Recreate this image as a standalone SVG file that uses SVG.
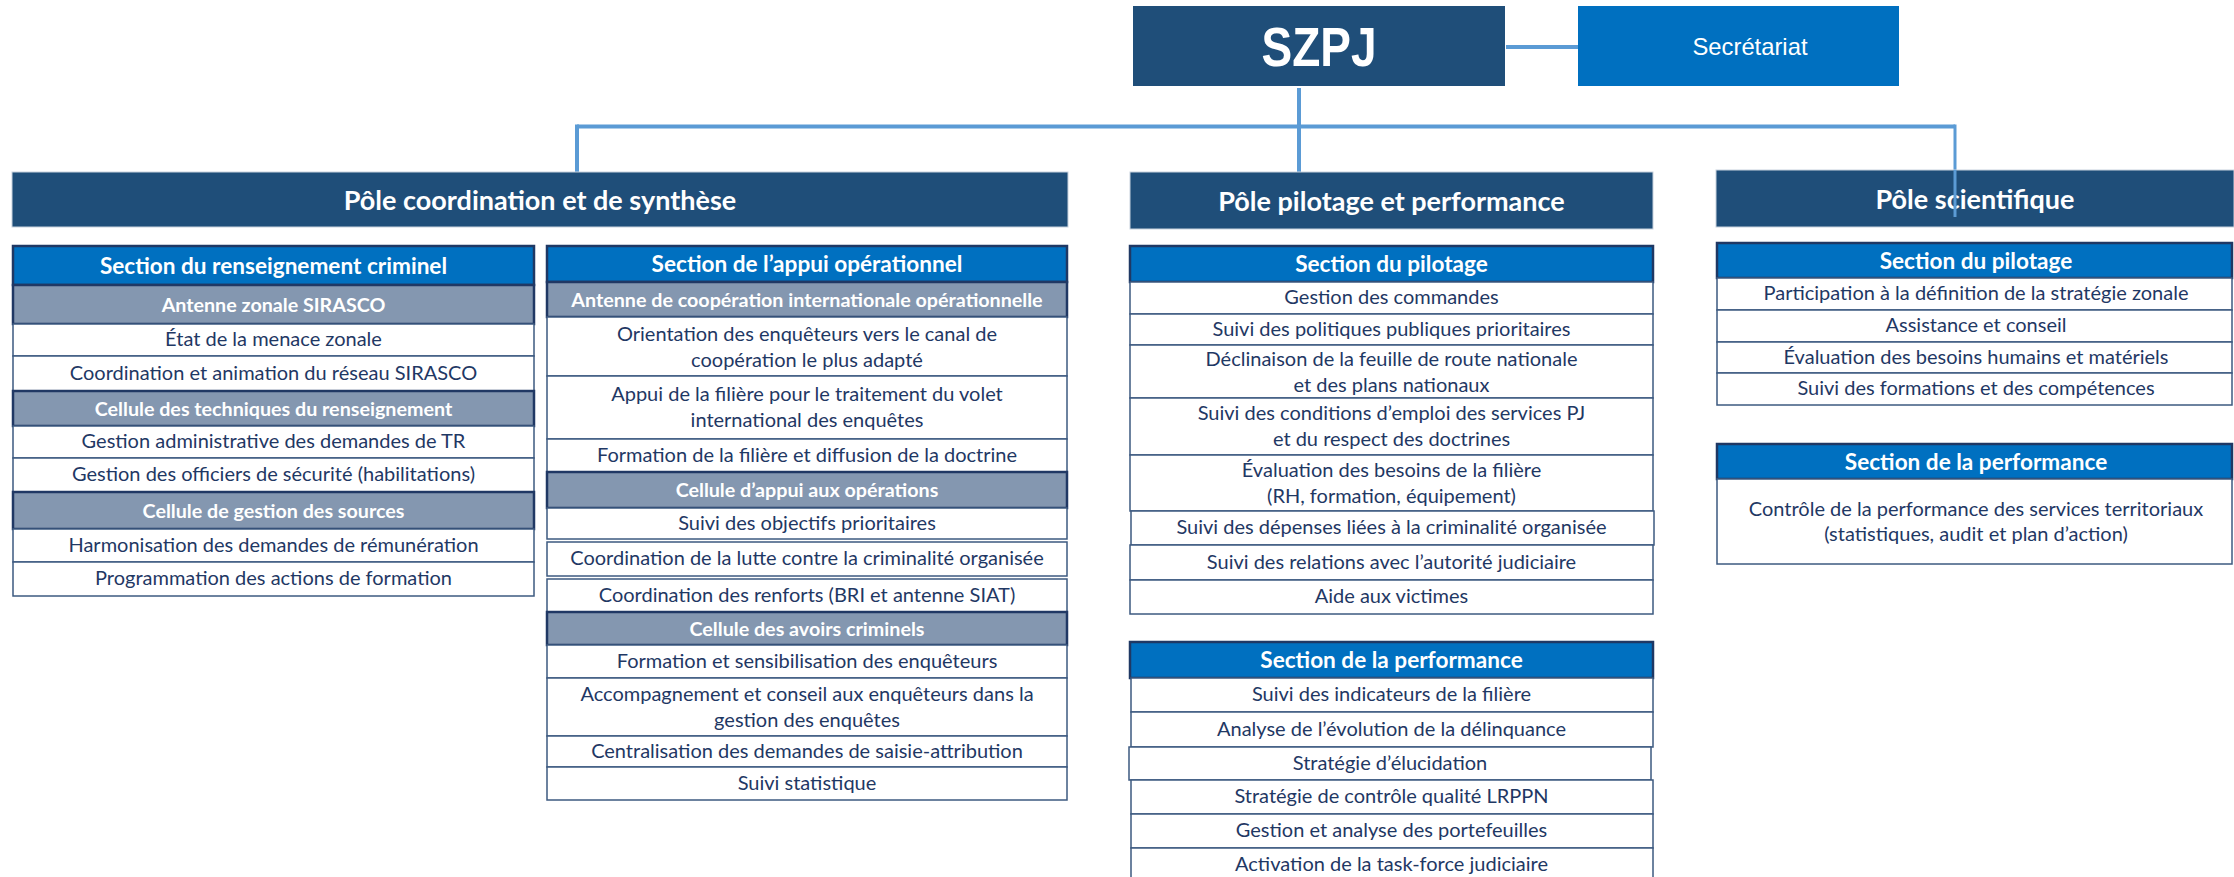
<svg xmlns="http://www.w3.org/2000/svg" width="2234" height="877" viewBox="0 0 2234 877">
<style>
.pole{fill:#1F4E79;stroke:#C8D2DE;stroke-width:1}
.pt{font-family:Lato,"Open Sans",sans-serif;font-weight:700;font-size:27px;fill:#fff;text-anchor:middle}
.sec{fill:#0070C0;stroke:#1F3864;stroke-width:2.5}
.st{font-family:Lato,"Open Sans",sans-serif;font-weight:700;font-size:22.6px;fill:#fff;text-anchor:middle}
.cel{fill:#8497B0;stroke:#203864;stroke-width:2.5}
.ct{font-family:Lato,"Open Sans",sans-serif;font-weight:700;font-size:19.7px;fill:#fff;text-anchor:middle}
.row{fill:#fff;stroke:#3D5A80;stroke-width:1.5}
.rt{font-family:Lato,"Open Sans",sans-serif;font-size:20px;fill:#1F3864;text-anchor:middle}
.conn{stroke:#5B9BD5;stroke-width:4;fill:none}
</style>
<rect width="2234" height="877" fill="#fff"/>
<g id="connectors">
<line class="conn" x1="1506" y1="47" x2="1578" y2="47"/>
<line class="conn" x1="1299" y1="88" x2="1299" y2="172"/>
<line class="conn" x1="577" y1="126.5" x2="1955" y2="126.5"/>
<line class="conn" x1="577" y1="124.5" x2="577" y2="172"/>
<line class="conn" x1="1955" y1="124.5" x2="1955" y2="217" style="stroke-width:3"/>
</g>
<g id="szpj"><rect x="1133" y="6" width="372" height="80" fill="#1F4E79"/><text x="1319" y="66" font-family="'Liberation Sans Narrow','Liberation Sans',Arial,sans-serif" font-weight="700" font-size="56" fill="#fff" text-anchor="middle" textLength="115" lengthAdjust="spacingAndGlyphs">SZPJ</text></g>
<g id="secretariat"><rect x="1578" y="6" width="321" height="80" fill="#0070C0"/><text x="1750" y="55" font-family="'Liberation Sans',Arial,sans-serif" font-size="24" fill="#fff" text-anchor="middle" textLength="115" lengthAdjust="spacingAndGlyphs">Secrétariat</text></g>
<g id="pole-coordination"><rect class="pole" x="12" y="172" width="1056" height="55"/><text class="pt" x="540" y="209.5">Pôle coordination et de synthèse</text></g>
<g id="pole-pilotage"><rect class="pole" x="1130" y="172" width="523" height="57"/><text class="pt" x="1391.5" y="211">Pôle pilotage et performance</text></g>
<g id="pole-scientifique"><rect class="pole" x="1716" y="170" width="518" height="57"/><text class="pt" x="1975" y="208.5">Pôle scientifique</text></g>
<line class="conn" x1="1955" y1="170" x2="1955" y2="217" style="stroke-width:3"/>

<g id="sec-renseignement">
<rect class="sec" x="13" y="246" width="521" height="39"/><text class="st" x="273.5" y="273.5">Section du renseignement criminel</text>
<rect class="cel" x="13" y="285" width="521" height="39"/><text class="ct" x="273.5" y="311.5">Antenne zonale SIRASCO</text>
<rect class="row" x="13" y="324" width="521" height="32"/><text class="rt" x="273.5" y="346">État de la menace zonale</text>
<rect class="row" x="13" y="356" width="521" height="35"/><text class="rt" x="273.5" y="379.5">Coordination et animation du réseau SIRASCO</text>
<rect class="cel" x="13" y="391" width="521" height="35"/><text class="ct" x="273.5" y="415.5">Cellule des techniques du renseignement</text>
<rect class="row" x="13" y="426" width="521" height="32"/><text class="rt" x="273.5" y="448">Gestion administrative des demandes de TR</text>
<rect class="row" x="13" y="458" width="521" height="34"/><text class="rt" x="273.5" y="481">Gestion des officiers de sécurité (habilitations)</text>
<rect class="cel" x="13" y="492" width="521" height="37"/><text class="ct" x="273.5" y="517.5">Cellule de gestion des sources</text>
<rect class="row" x="13" y="529" width="521" height="33"/><text class="rt" x="273.5" y="551.5">Harmonisation des demandes de rémunération</text>
<rect class="row" x="13" y="562" width="521" height="34"/><text class="rt" x="273.5" y="585">Programmation des actions de formation</text>
</g>

<g id="sec-appui">
<rect class="sec" x="547" y="246" width="520" height="36"/><text class="st" x="807" y="272">Section de l’appui opérationnel</text>
<rect class="cel" x="547" y="282" width="520" height="35"/><text class="ct" x="807" y="306.5">Antenne de coopération internationale opérationnelle</text>
<rect class="row" x="547" y="317" width="520" height="59"/><text class="rt" x="807" y="341">Orientation des enquêteurs vers le canal de</text><text class="rt" x="807" y="366.5">coopération le plus adapté</text>
<rect class="row" x="547" y="376" width="520" height="63"/><text class="rt" x="807" y="401">Appui de la filière pour le traitement du volet</text><text class="rt" x="807" y="426.5">international des enquêtes</text>
<rect class="row" x="547" y="439" width="520" height="33"/><text class="rt" x="807" y="461.5">Formation de la filière et diffusion de la doctrine</text>
<rect class="cel" x="547" y="472" width="520" height="36"/><text class="ct" x="807" y="497">Cellule d’appui aux opérations</text>
<rect class="row" x="547" y="508" width="520" height="31"/><text class="rt" x="807" y="529.5">Suivi des objectifs prioritaires</text>
<rect class="row" x="547" y="542" width="520" height="34"/><text class="rt" x="807" y="565">Coordination de la lutte contre la criminalité organisée</text>
<rect class="row" x="547" y="579" width="520" height="33"/><text class="rt" x="807" y="601.5">Coordination des renforts (BRI et antenne SIAT)</text>
<rect class="cel" x="547" y="612" width="520" height="33"/><text class="ct" x="807" y="635.5">Cellule des avoirs criminels</text>
<rect class="row" x="547" y="645" width="520" height="33"/><text class="rt" x="807" y="667.5">Formation et sensibilisation des enquêteurs</text>
<rect class="row" x="547" y="678" width="520" height="58"/><text class="rt" x="807" y="701">Accompagnement et conseil aux enquêteurs dans la</text><text class="rt" x="807" y="726.5">gestion des enquêtes</text>
<rect class="row" x="547" y="736" width="520" height="31"/><text class="rt" x="807" y="757.5">Centralisation des demandes de saisie-attribution</text>
<rect class="row" x="547" y="767" width="520" height="33"/><text class="rt" x="807" y="789.5">Suivi statistique</text>
</g>

<g id="sec-pilotage-pp">
<rect class="sec" x="1130" y="246" width="523" height="36"/><text class="st" x="1391.5" y="272">Section du pilotage</text>
<rect class="row" x="1130" y="282" width="523" height="32"/><text class="rt" x="1391.5" y="304">Gestion des commandes</text>
<rect class="row" x="1130" y="314" width="523" height="31"/><text class="rt" x="1391.5" y="335.5">Suivi des politiques publiques prioritaires</text>
<rect class="row" x="1130" y="345" width="523" height="53"/><text class="rt" x="1391.5" y="365.5">Déclinaison de la feuille de route nationale</text><text class="rt" x="1391.5" y="391.5">et des plans nationaux</text>
<rect class="row" x="1130" y="398" width="523" height="57"/><text class="rt" x="1391.5" y="420">Suivi des conditions d’emploi des services PJ</text><text class="rt" x="1391.5" y="445.5">et du respect des doctrines</text>
<rect class="row" x="1130" y="455" width="523" height="56"/><text class="rt" x="1391.5" y="476.5">Évaluation des besoins de la filière</text><text class="rt" x="1391.5" y="502.5">(RH, formation, équipement)</text>
<rect class="row" x="1131" y="511" width="523" height="34"/><text class="rt" x="1391.5" y="534">Suivi des dépenses liées à la criminalité organisée</text>
<rect class="row" x="1130" y="545" width="523" height="35"/><text class="rt" x="1391.5" y="568.5">Suivi des relations avec l’autorité judiciaire</text>
<rect class="row" x="1130" y="580" width="523" height="34"/><text class="rt" x="1391.5" y="603">Aide aux victimes</text>
</g>

<g id="sec-performance-pp">
<rect class="sec" x="1130" y="642" width="523" height="36"/><text class="st" x="1391.5" y="668">Section de la performance</text>
<rect class="row" x="1131" y="678" width="522" height="34"/><text class="rt" x="1391.5" y="701">Suivi des indicateurs de la filière</text>
<rect class="row" x="1131" y="712" width="522" height="35"/><text class="rt" x="1391.5" y="735.5">Analyse de l’évolution de la délinquance</text>
<rect class="row" x="1129" y="747" width="522" height="33"/><text class="rt" x="1390" y="769.5">Stratégie d’élucidation</text>
<rect class="row" x="1131" y="780" width="522" height="34"/><text class="rt" x="1391.5" y="803">Stratégie de contrôle qualité LRPPN</text>
<rect class="row" x="1131" y="814" width="522" height="34"/><text class="rt" x="1391.5" y="837">Gestion et analyse des portefeuilles</text>
<rect class="row" x="1131" y="848" width="522" height="34"/><text class="rt" x="1391.5" y="871">Activation de la task-force judiciaire</text>
</g>

<g id="sec-pilotage-ps">
<rect class="sec" x="1717" y="243" width="515" height="35"/><text class="st" x="1976" y="268.5">Section du pilotage</text>
<rect class="row" x="1717" y="278" width="515" height="32"/><text class="rt" x="1976" y="300">Participation à la définition de la stratégie zonale</text>
<rect class="row" x="1717" y="310" width="515" height="32"/><text class="rt" x="1976" y="332">Assistance et conseil</text>
<rect class="row" x="1717" y="342" width="515" height="31"/><text class="rt" x="1976" y="363.5">Évaluation des besoins humains et matériels</text>
<rect class="row" x="1717" y="373" width="515" height="32"/><text class="rt" x="1976" y="395">Suivi des formations et des compétences</text>
</g>

<g id="sec-performance-ps">
<rect class="sec" x="1717" y="444" width="515" height="35"/><text class="st" x="1976" y="469.5">Section de la performance</text>
<rect class="row" x="1717" y="479" width="515" height="85"/><text class="rt" x="1976" y="515.5">Contrôle de la performance des services territoriaux</text><text class="rt" x="1976" y="540.5">(statistiques, audit et plan d’action)</text>
</g>
</svg>
